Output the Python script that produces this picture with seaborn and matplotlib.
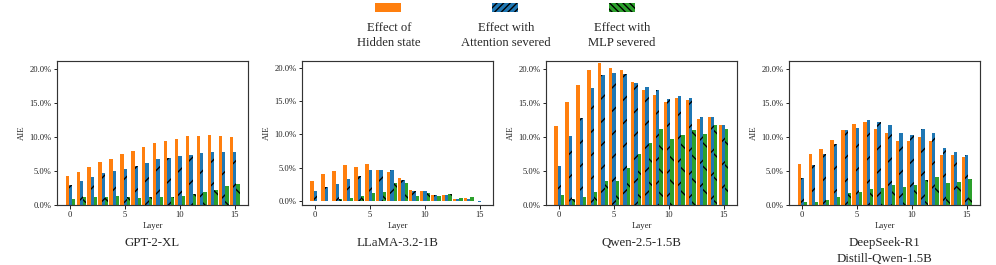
import numpy as np
import pandas as pd
import matplotlib.pyplot as plt
import seaborn as sns
from matplotlib.patches import Patch
from matplotlib.ticker import PercentFormatter

sns.set_theme(style='ticks')
plt.rcParams['font.family'] = ['Liberation Serif', 'DejaVu Serif']
plt.rcParams['hatch.linewidth'] = 0.7

# values, AIE in percent, layers 0-15
layers = list(range(16))
models = ['GPT-2-XL', 'LLaMA-3.2-1B', 'Qwen-2.5-1.5B', 'DeepSeek-R1\nDistill-Qwen-1.5B']
effects = ['Effect of\nHidden state', 'Effect with\nAttention severed', 'Effect with\nMLP severed']
colors = ['#ff7f0e', '#1f77b4', '#2ca02c']
hatches = ['', '//', '\\\\']

gpt_hidden = [4.35, 4.9, 5.6, 6.3, 6.8, 7.5, 8.0, 8.5, 9.1, 9.4, 9.7, 10.1, 10.1, 10.3, 10.1, 9.95]
gpt_attn = [3.0, 3.6, 4.1, 4.65, 5.0, 5.35, 5.8, 6.2, 6.7, 6.9, 7.15, 7.3, 7.6, 7.75, 7.75, 7.75]
gpt_mlp = [0.93, 1.27, 1.27, 1.18, 1.3, 1.2, 1.1, 1.2, 1.2, 1.2, 1.3, 1.6, 1.9, 2.3, 2.75, 3.1]

llama_hidden = [3.1, 4.1, 4.6, 5.5, 5.2, 5.6, 4.7, 4.4, 3.5, 1.7, 1.6, 0.95, 0.95, 0.35, 0.5, 0.0]
llama_attn = [1.5, 2.2, 2.6, 3.3, 3.8, 4.7, 4.7, 4.7, 3.2, 1.5, 1.5, 0.95, 0.9, 0.35, 0.35, -0.1]
llama_mlp = [0.1, 0.1, 0.4, 0.55, 0.8, 1.25, 1.4, 2.7, 2.7, 0.8, 1.3, 0.85, 1.15, 0.45, 0.6, 0.0]

qwen_hidden = [11.6, 15.05, 17.55, 19.8, 20.8, 20.1, 19.85, 18.1, 16.9, 16.2, 15.15, 15.75, 15.4, 12.55, 12.95, 11.7]
qwen_attn = [5.8, 10.2, 12.7, 17.1, 19.05, 19.3, 19.25, 17.95, 17.35, 16.8, 15.5, 15.95, 15.65, 12.95, 12.95, 11.7]
qwen_mlp = [1.5, 0.9, 1.15, 2.0, 3.5, 3.5, 5.5, 7.5, 9.15, 11.1, 9.75, 10.35, 11.0, 10.45, 11.7, 11.1]

ds_hidden = [6.0, 7.45, 8.3, 9.5, 11.05, 11.95, 12.2, 11.15, 10.5, 9.4, 9.35, 10.0, 9.4, 7.4, 7.35, 7.0]
ds_attn = [3.95, 5.95, 7.45, 8.9, 11.05, 11.25, 12.45, 12.15, 11.75, 10.5, 10.3, 11.1, 10.5, 8.35, 7.85, 7.35]
ds_mlp = [0.5, 0.55, 0.75, 1.15, 1.8, 1.95, 2.35, 2.6, 2.95, 2.7, 3.0, 3.65, 4.1, 3.3, 3.4, 3.8]

series = [
    (gpt_hidden, gpt_attn, gpt_mlp),
    (llama_hidden, llama_attn, llama_mlp),
    (qwen_hidden, qwen_attn, qwen_mlp),
    (ds_hidden, ds_attn, ds_mlp),
]
ylims = [(0, 21.1), (-0.6, 21.0), (0, 21.1), (0, 21.1)]

rows = []
for model, vals in zip(models, series):
    for effect, v in zip(effects, vals):
        for layer, aie in zip(layers, v):
            rows.append({'model': model, 'effect': effect, 'layer': layer, 'AIE': aie})
df = pd.DataFrame(rows)

fig = plt.figure(figsize=(997 / 140, 265 / 140), dpi=140)
lefts = [0.0572, 0.3029, 0.5476, 0.7914]

for left, model, ylim in zip(lefts, models, ylims):
    ax = fig.add_axes([left, 0.2253, 0.1916, 0.5445])
    sns.barplot(data=df[df.model == model], x='layer', y='AIE', hue='effect',
                hue_order=effects, palette=colors, saturation=1, width=0.85,
                errorbar=None, legend=False, edgecolor='black', linewidth=0, ax=ax)
    for cont, h in zip(ax.containers, hatches):
        for bar in cont:
            bar.set_hatch(h)
    ax.set_xlim(-1.2, 16.2)
    ax.set_ylim(*ylim)
    ax.set_xticks([0, 5, 10, 15])
    ax.set_xticklabels(['0', '5', '10', '15'])
    ax.set_yticks([0, 5, 10, 15, 20])
    ax.yaxis.set_major_formatter(PercentFormatter(xmax=100, decimals=1))
    ax.tick_params(labelsize=4.4, length=1.8, width=0.5, pad=1, colors='#222222')
    for sp in ax.spines.values():
        sp.set_linewidth(0.6)
        sp.set_color('#333333')
    ax.set_xlabel('Layer', fontsize=4.5, labelpad=1.5)
    ax.set_ylabel('AIE', fontsize=4.5, labelpad=2)
    ax.text(0.5, -0.222, model, transform=ax.transAxes, ha='center', va='top',
            fontsize=6.6, linespacing=1.4)

# legend: swatch on top, two-line label underneath
handles = [Patch(facecolor=c, edgecolor='black', linewidth=0, hatch=h)
           for c, h in zip(colors, ['', '///////', '\\\\\\\\\\\\\\'])]
fs = 6.4 * 140 / 72
fig.legend(handles, ['', '', ''], loc='center', bbox_to_anchor=(0.507, 1 - 8.5 / 265),
           ncol=3, frameon=False, fontsize=6.4, handlelength=26 / fs, handleheight=9 / fs,
           handletextpad=0, columnspacing=(117 - 26) / fs, borderpad=0, borderaxespad=0)
for x, lab in zip([389, 506, 622], effects):
    fig.text(x / 997, 1 - 22 / 265, lab, ha='center', va='top', fontsize=6.5, linespacing=1.3)

fig.savefig('out.png', dpi=140)
